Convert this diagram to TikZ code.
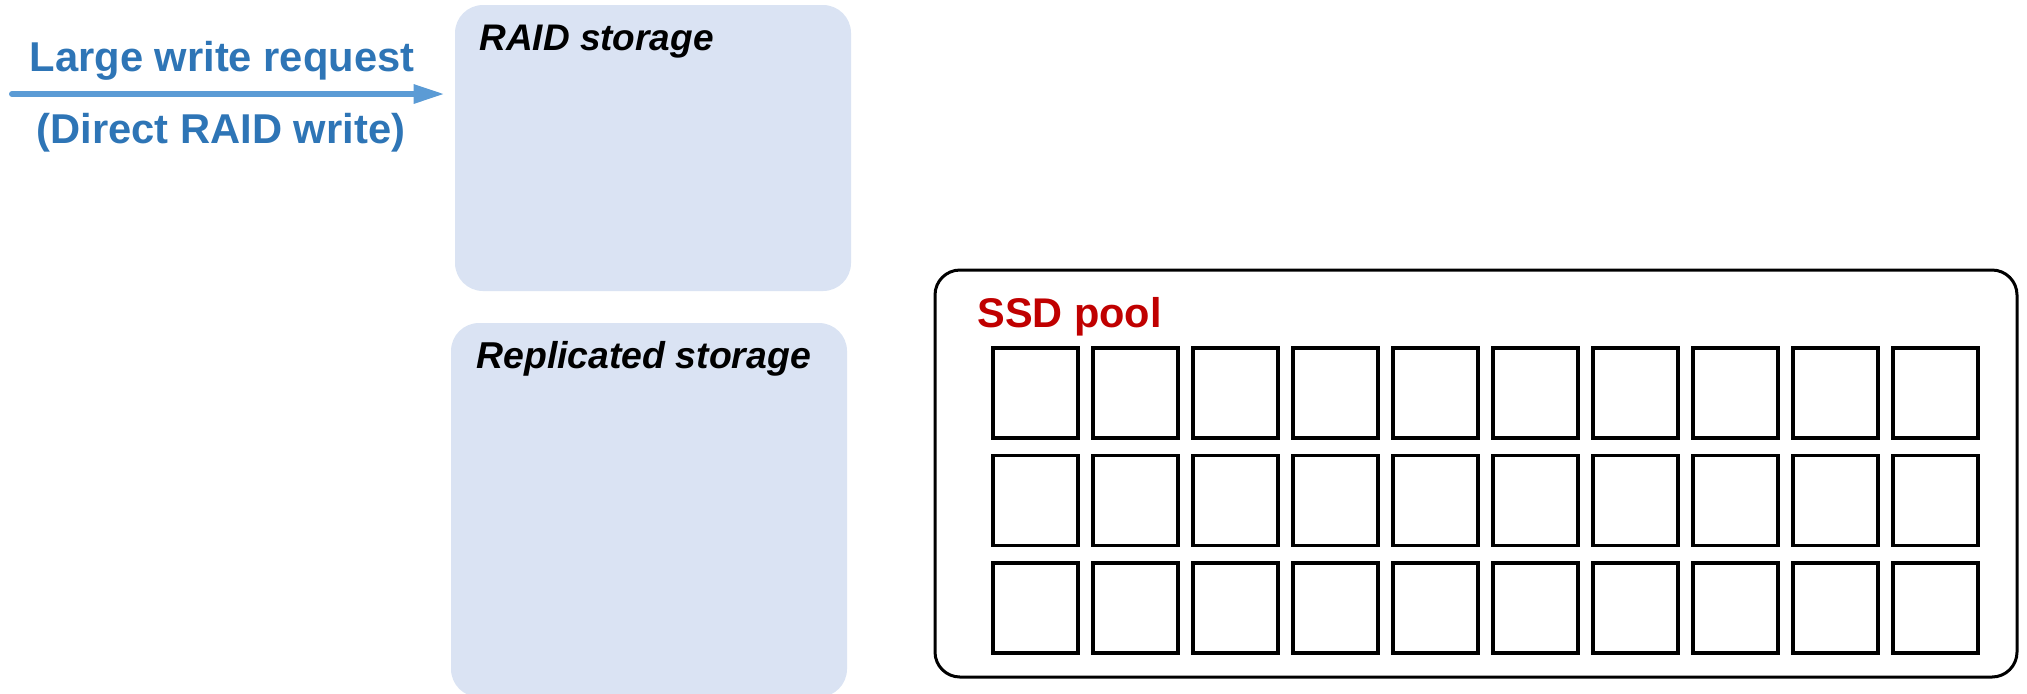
\documentclass[tikz,border=0pt]{standalone}
\usepackage{fontspec}
\setmainfont{Liberation Sans}
\usetikzlibrary{arrows.meta}
\definecolor{txtblue}{HTML}{2E75B6}
\definecolor{arrblue}{HTML}{5B9BD5}
\definecolor{boxfill}{HTML}{DAE3F3}
\definecolor{ssdred}{HTML}{C00000}
\tikzset{
  storebox/.style={fill=boxfill, draw=none, rounded corners=14pt, inner sep=0pt},
  poolbox/.style={draw=black, line width=1.5pt, rounded corners=12.5pt, inner sep=0pt},
  disk/.style={draw=black, line width=1.7pt, minimum width=42.5pt, minimum height=45pt, inner sep=0pt},
  lbl/.style={inner sep=0pt, anchor=base west},
  bluelbl/.style={inner sep=0pt, anchor=base, text=txtblue, font=\bfseries\fontsize{20.85pt}{25pt}\selectfont},
  flow/.style={draw=arrblue, line width=3pt, line cap=round, -{Triangle[length=15.5pt, width=9pt]}}
}
\begin{document}
\begin{tikzpicture}[x=0.5pt, y=-0.5pt]
\useasboundingbox (0,0) rectangle (2027,693);
% storage boxes
\node[storebox, minimum width=198pt, minimum height=143pt] (raid) at (653,148) {};
\node[storebox, minimum width=198pt, minimum height=187pt] (repl) at (649,510) {};
\node[lbl, font=\bfseries\itshape\fontsize{18.5pt}{22pt}\selectfont] (raidlbl) at (479,50) {RAID storage};
\node[lbl, font=\bfseries\itshape\fontsize{18.7pt}{22pt}\selectfont] (repllbl) at (476,368) {Replicated storage};
% SSD pool
\node[poolbox, minimum width=541pt, minimum height=203.5pt] (pool) at (1476,473.5) {};
\node[lbl, text=ssdred, font=\bfseries\fontsize{20.75pt}{25pt}\selectfont] (poollbl) at (977,327) {SSD pool};
\foreach \r/\yy in {1/393, 2/500.5, 3/608}{
  \foreach \c in {0,...,9}{
    \node[disk] (d-\r-\c) at ({1035.5+100*\c},\yy) {};
  }
}
% write request arrow
\coordinate (src) at (12,94);
\draw[flow, shorten >=5pt] (src) -- (raid.west |- src);
\node[bluelbl] (req) at (222,71) {Large write request};
\node[bluelbl] (direct) at (221,143) {(Direct RAID write)};
\end{tikzpicture}
\end{document}
